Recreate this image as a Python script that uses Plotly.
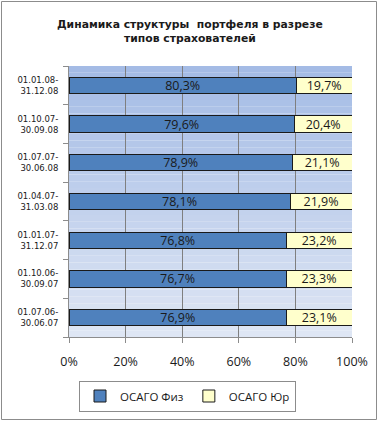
import plotly.graph_objects as go

periods = ["01.07.06-<br>30.06.07", "01.10.06-<br>30.09.07", "01.01.07-<br>31.12.07",
           "01.04.07-<br>31.03.08", "01.07.07-<br>30.06.08", "01.10.07-<br>30.09.08",
           "01.01.08-<br>31.12.08"]
fiz = [76.9, 76.7, 76.8, 78.1, 78.9, 79.6, 80.3]
yur = [23.1, 23.3, 23.2, 21.9, 21.1, 20.4, 19.7]
series_names = ["ОСАГО Физ", "ОСАГО Юр"]
x_ticks = [0, 20, 40, 60, 80, 100]
x_tick_labels = ["0%", "20%", "40%", "60%", "80%", "100%"]

def fmt(v):
    return f"{v:.1f}%".replace(".", ",")

W, H = 380, 423
ml, mr, mt, mb = 69, 28, 66, 86
pw, ph = W - ml - mr, H - mt - mb

fig = go.Figure()
fig.add_trace(go.Bar(y=periods, x=fiz, orientation="h", name=series_names[0],
                     marker=dict(color="#4F81BD", line=dict(color="#1a1a1a", width=1)),
                     text=[fmt(v) for v in fiz], textposition="inside", insidetextanchor="middle",
                     constraintext="none", cliponaxis=False,
                     textfont=dict(color="#1a1a1a", size=12.5, family="Open Sans"), width=0.42))
fig.add_trace(go.Bar(y=periods, x=yur, orientation="h", name=series_names[1],
                     marker=dict(color="#FFFFCC", line=dict(color="#1a1a1a", width=1)),
                     text=[fmt(v) for v in yur], textposition="inside", insidetextanchor="middle",
                     constraintext="none", cliponaxis=False,
                     textfont=dict(color="#1a1a1a", size=12.5, family="Open Sans"), width=0.42))

shapes = []
n = 40
c0 = (0xA4, 0xBB, 0xE5)
c1 = (0xDE, 0xE6, 0xF4)
for i in range(n):
    t = i / (n - 1)
    c = tuple(int(round(c0[k] + (c1[k] - c0[k]) * t)) for k in range(3))
    shapes.append(dict(type="rect", xref="paper", yref="paper", x0=0, x1=1,
                       y0=1 - (i + 1) / n, y1=1 - i / n, layer="below",
                       fillcolor="rgb(%d,%d,%d)" % c, line=dict(width=0)))
# outer chart border
shapes.append(dict(type="rect", xref="paper", yref="paper",
                   x0=(1.5 - ml) / pw, x1=(W - 3.5 - ml) / pw,
                   y0=-(H - 3.5 - mt - ph) / ph, y1=1 + (mt - 1.5) / ph,
                   line=dict(color="#8c8c8c", width=1), fillcolor="rgba(0,0,0,0)", layer="below"))

fig.update_layout(
    width=W, height=H, barmode="stack",
    margin=dict(l=ml, r=mr, t=mt, b=mb, autoexpand=False),
    paper_bgcolor="white", plot_bgcolor="rgba(0,0,0,0)",
    shapes=shapes,
    showlegend=True,
    legend=dict(orientation="h", traceorder="normal", x=(187.5 - ml) / pw, xanchor="center",
                y=-(396 - mt - ph) / ph, yanchor="middle",
                bordercolor="#8c8c8c", borderwidth=1,
                font=dict(size=11.5, family="Open Sans", color="#1a1a1a"),
                itemwidth=30),
    annotations=[dict(text="<b>Динамика структуры  портфеля в разрезе<br>типов страхователей</b>",
                      xref="paper", yref="paper", x=(190 - ml) / pw, y=1 + (mt - 32) / ph,
                      xanchor="center", yanchor="middle", showarrow=False,
                      font=dict(size=10.8, family="DejaVu Sans", color="#1a1a1a"))],
    font=dict(family="Open Sans", color="#1a1a1a"),
)
fig.update_xaxes(range=[0, 100], tickvals=x_ticks, ticktext=x_tick_labels,
                 showgrid=True, gridcolor="#7f7f7f", gridwidth=1,
                 showline=True, linecolor="#8c8c8c", ticks="outside", ticklen=5, tickcolor="#8c8c8c",
                 ticklabelstandoff=8, automargin=False,
                 tickfont=dict(size=12.5, family="Open Sans"), zeroline=False, fixedrange=True)
fig.update_yaxes(categoryorder="array", categoryarray=periods, showgrid=False,
                 showline=True, linecolor="#8c8c8c", ticks="outside", ticklen=5, tickcolor="#8c8c8c",
                 tickson="boundaries", ticklabelstandoff=8, automargin=False,
                 tickfont=dict(size=8.5, family="DejaVu Sans"), fixedrange=True)

fig.write_html("out.html", config={"displayModeBar": False},
               post_script="document.body.style.margin='0';document.body.style.overflow='hidden';")
